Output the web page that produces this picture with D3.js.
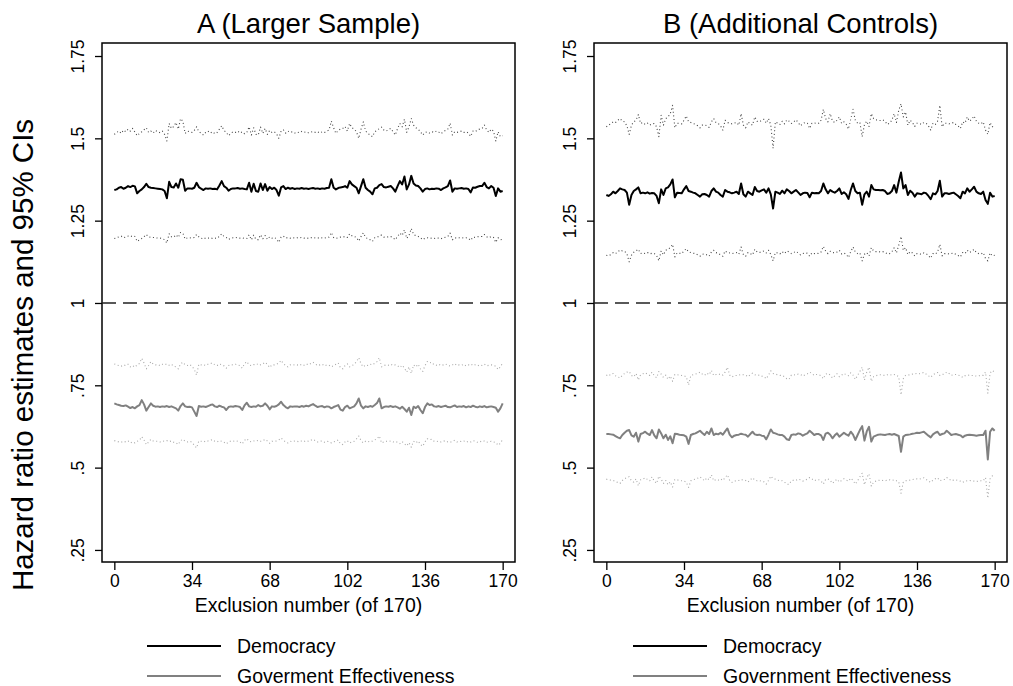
<!DOCTYPE html>
<html>
<head>
<meta charset="utf-8">
<script src="https://cdn.jsdelivr.net/npm/d3@7"></script>
<style>
    body { margin: 0; background: #fff; }
    text { font-family: "Liberation Sans", Arial, Helvetica, sans-serif; fill: #000; }
</style>
</head>
<body>
<script>

// tick values and labels
var xTicks = [0, 34, 68, 102, 136, 170];
var yTicks = [0.25, 0.5, 0.75, 1, 1.25, 1.5, 1.75];
var yTickLabels = [".25", ".5", ".75", "1", "1.25", "1.5", "1.75"];

// exclusion number 0..170
var exclusion = d3.range(0, 171);

// Panel A (Larger Sample)
var demA = [1.343,1.345,1.350,1.352,1.347,1.350,1.355,1.352,1.356,1.354,
    1.333,1.340,1.345,1.352,1.362,1.352,1.350,1.349,1.348,1.347,
    1.346,1.345,1.340,1.318,1.368,1.352,1.351,1.363,1.350,1.376,
    1.374,1.341,1.348,1.348,1.347,1.350,1.365,1.352,1.347,1.343,
    1.348,1.347,1.348,1.346,1.347,1.345,1.357,1.370,1.355,1.350,
    1.341,1.346,1.348,1.348,1.349,1.347,1.348,1.346,1.345,1.365,
    1.338,1.362,1.340,1.338,1.363,1.343,1.361,1.341,1.352,1.346,
    1.350,1.343,1.326,1.351,1.355,1.346,1.350,1.347,1.349,1.346,
    1.348,1.347,1.349,1.347,1.348,1.346,1.348,1.349,1.347,1.348,
    1.346,1.348,1.347,1.349,1.350,1.376,1.350,1.345,1.349,1.351,
    1.352,1.355,1.350,1.370,1.360,1.355,1.350,1.333,1.355,1.376,
    1.350,1.343,1.338,1.330,1.348,1.350,1.358,1.361,1.352,1.351,
    1.353,1.355,1.348,1.338,1.355,1.370,1.360,1.384,1.345,1.360,
    1.386,1.363,1.357,1.355,1.348,1.338,1.346,1.348,1.345,1.347,
    1.346,1.348,1.347,1.343,1.348,1.351,1.355,1.372,1.338,1.348,
    1.347,1.348,1.349,1.347,1.348,1.346,1.336,1.351,1.350,1.353,
    1.355,1.355,1.365,1.352,1.348,1.355,1.350,1.325,1.348,1.338,
    1.340];
var demAHi = [1.512,1.518,1.522,1.515,1.525,1.520,1.528,1.522,1.530,1.519,
    1.508,1.515,1.520,1.526,1.532,1.518,1.522,1.516,1.524,1.520,
    1.517,1.522,1.512,1.492,1.545,1.530,1.536,1.548,1.528,1.560,
    1.552,1.515,1.522,1.520,1.518,1.524,1.535,1.520,1.516,1.510,
    1.518,1.522,1.516,1.520,1.514,1.518,1.528,1.538,1.524,1.518,
    1.508,1.515,1.520,1.518,1.522,1.516,1.520,1.514,1.518,1.535,
    1.510,1.532,1.512,1.510,1.534,1.515,1.530,1.512,1.524,1.518,
    1.520,1.514,1.500,1.522,1.526,1.516,1.522,1.518,1.520,1.516,
    1.519,1.517,1.521,1.518,1.520,1.517,1.519,1.521,1.518,1.520,
    1.516,1.520,1.518,1.522,1.525,1.552,1.532,1.515,1.524,1.528,
    1.530,1.536,1.522,1.545,1.532,1.528,1.520,1.500,1.528,1.550,
    1.522,1.515,1.510,1.505,1.520,1.524,1.530,1.534,1.525,1.522,
    1.526,1.530,1.520,1.510,1.530,1.545,1.535,1.558,1.518,1.535,
    1.560,1.540,1.532,1.528,1.520,1.510,1.518,1.520,1.516,1.520,
    1.518,1.522,1.519,1.514,1.520,1.524,1.528,1.546,1.510,1.520,
    1.518,1.520,1.522,1.518,1.520,1.516,1.506,1.522,1.520,1.526,
    1.528,1.530,1.540,1.525,1.518,1.528,1.522,1.492,1.520,1.505,
    1.508];
var demALo = [1.196,1.198,1.201,1.203,1.198,1.200,1.203,1.201,1.204,1.202,
    1.187,1.192,1.196,1.201,1.208,1.201,1.199,1.199,1.198,1.197,
    1.197,1.196,1.192,1.182,1.210,1.201,1.200,1.207,1.199,1.214,
    1.212,1.194,1.198,1.198,1.197,1.199,1.208,1.201,1.197,1.194,
    1.198,1.197,1.198,1.196,1.197,1.196,1.203,1.210,1.202,1.199,
    1.193,1.196,1.198,1.198,1.199,1.197,1.198,1.196,1.196,1.207,
    1.192,1.206,1.193,1.192,1.207,1.195,1.205,1.193,1.201,1.197,
    1.199,1.195,1.184,1.200,1.203,1.197,1.199,1.197,1.199,1.197,
    1.198,1.197,1.199,1.197,1.198,1.196,1.198,1.199,1.197,1.198,
    1.196,1.198,1.197,1.199,1.200,1.214,1.199,1.196,1.198,1.200,
    1.200,1.202,1.199,1.210,1.204,1.202,1.199,1.188,1.202,1.213,
    1.199,1.195,1.192,1.187,1.198,1.199,1.204,1.206,1.200,1.200,
    1.201,1.202,1.198,1.192,1.202,1.212,1.205,1.222,1.196,1.205,
    1.226,1.208,1.204,1.202,1.198,1.192,1.197,1.198,1.196,1.197,
    1.196,1.198,1.197,1.195,1.198,1.200,1.202,1.212,1.192,1.198,
    1.197,1.198,1.199,1.197,1.198,1.196,1.190,1.200,1.199,1.201,
    1.202,1.202,1.208,1.201,1.198,1.202,1.199,1.184,1.198,1.192,
    1.193];
var govA = [0.695,0.692,0.690,0.688,0.687,0.689,0.685,0.681,0.684,0.680,
    0.686,0.690,0.705,0.692,0.673,0.684,0.695,0.688,0.685,0.686,
    0.684,0.686,0.685,0.687,0.684,0.686,0.683,0.680,0.673,0.687,
    0.695,0.686,0.684,0.685,0.683,0.670,0.657,0.687,0.685,0.686,
    0.684,0.687,0.690,0.692,0.686,0.684,0.688,0.685,0.683,0.675,
    0.684,0.686,0.685,0.687,0.686,0.684,0.675,0.689,0.697,0.686,
    0.684,0.686,0.685,0.690,0.686,0.688,0.695,0.688,0.677,0.686,
    0.685,0.687,0.692,0.700,0.690,0.684,0.680,0.686,0.685,0.686,
    0.686,0.684,0.687,0.685,0.688,0.686,0.690,0.693,0.688,0.684,
    0.686,0.687,0.683,0.686,0.685,0.680,0.684,0.687,0.690,0.676,
    0.673,0.684,0.688,0.680,0.683,0.686,0.695,0.710,0.688,0.680,
    0.686,0.684,0.687,0.685,0.690,0.696,0.710,0.680,0.684,0.686,
    0.685,0.687,0.684,0.686,0.683,0.679,0.685,0.678,0.670,0.682,
    0.660,0.685,0.681,0.687,0.675,0.665,0.684,0.695,0.690,0.692,
    0.686,0.685,0.687,0.684,0.686,0.688,0.684,0.683,0.686,0.689,
    0.684,0.686,0.685,0.687,0.683,0.686,0.684,0.688,0.685,0.683,
    0.686,0.684,0.687,0.683,0.685,0.686,0.684,0.682,0.670,0.680,
    0.695];
var govAHi = [0.815,0.812,0.810,0.808,0.812,0.810,0.814,0.806,0.810,0.805,
    0.812,0.816,0.832,0.818,0.800,0.810,0.822,0.815,0.812,0.813,
    0.810,0.814,0.812,0.815,0.811,0.814,0.808,0.806,0.800,0.815,
    0.820,0.812,0.810,0.813,0.808,0.798,0.781,0.814,0.812,0.813,
    0.810,0.814,0.816,0.818,0.812,0.810,0.815,0.812,0.809,0.802,
    0.810,0.813,0.812,0.814,0.812,0.810,0.802,0.816,0.822,0.812,
    0.810,0.813,0.812,0.816,0.812,0.815,0.820,0.814,0.804,0.812,
    0.812,0.814,0.818,0.826,0.816,0.810,0.806,0.812,0.811,0.813,
    0.812,0.810,0.814,0.811,0.815,0.812,0.816,0.820,0.815,0.810,
    0.812,0.814,0.809,0.812,0.811,0.806,0.810,0.814,0.818,0.803,
    0.800,0.810,0.815,0.806,0.810,0.813,0.822,0.834,0.815,0.806,
    0.812,0.810,0.814,0.812,0.817,0.822,0.834,0.806,0.810,0.812,
    0.811,0.814,0.810,0.812,0.809,0.804,0.811,0.802,0.790,0.806,
    0.786,0.812,0.806,0.814,0.800,0.792,0.810,0.822,0.818,0.820,
    0.812,0.811,0.814,0.810,0.812,0.815,0.810,0.809,0.812,0.816,
    0.810,0.812,0.811,0.814,0.809,0.812,0.810,0.815,0.812,0.809,
    0.812,0.810,0.814,0.809,0.811,0.812,0.810,0.808,0.798,0.806,
    0.818];
var govALo = [0.582,0.580,0.578,0.577,0.580,0.578,0.581,0.575,0.578,0.575,
    0.580,0.583,0.594,0.584,0.570,0.578,0.586,0.581,0.580,0.580,
    0.578,0.581,0.580,0.582,0.579,0.581,0.577,0.575,0.570,0.582,
    0.586,0.580,0.578,0.580,0.577,0.568,0.560,0.581,0.580,0.581,
    0.578,0.581,0.583,0.585,0.580,0.578,0.582,0.580,0.577,0.572,
    0.578,0.581,0.580,0.582,0.580,0.578,0.572,0.583,0.588,0.580,
    0.578,0.581,0.580,0.583,0.580,0.582,0.586,0.581,0.574,0.580,
    0.580,0.581,0.584,0.590,0.583,0.578,0.575,0.580,0.579,0.581,
    0.580,0.578,0.581,0.579,0.582,0.580,0.583,0.586,0.582,0.578,
    0.580,0.581,0.577,0.580,0.579,0.575,0.578,0.581,0.584,0.572,
    0.570,0.578,0.582,0.575,0.578,0.580,0.587,0.596,0.582,0.575,
    0.580,0.578,0.581,0.580,0.584,0.588,0.596,0.575,0.578,0.580,
    0.579,0.581,0.578,0.580,0.577,0.573,0.579,0.572,0.566,0.576,
    0.562,0.580,0.575,0.581,0.570,0.565,0.578,0.588,0.585,0.586,
    0.580,0.579,0.581,0.578,0.580,0.582,0.578,0.577,0.580,0.583,
    0.578,0.580,0.579,0.581,0.577,0.580,0.578,0.582,0.580,0.577,
    0.580,0.578,0.581,0.577,0.579,0.580,0.578,0.576,0.568,0.574,
    0.586];

// Panel B (Additional Controls)
var demB = [1.328,1.325,1.330,1.338,1.333,1.340,1.348,1.345,1.343,1.335,
    1.298,1.328,1.340,1.345,1.351,1.333,1.335,1.333,1.336,1.332,
    1.334,1.333,1.325,1.303,1.345,1.328,1.348,1.351,1.360,1.375,
    1.321,1.335,1.334,1.333,1.345,1.355,1.340,1.338,1.335,1.333,
    1.328,1.323,1.330,1.331,1.328,1.323,1.340,1.348,1.338,1.335,
    1.328,1.323,1.343,1.338,1.336,1.333,1.335,1.338,1.331,1.363,
    1.330,1.323,1.338,1.333,1.328,1.352,1.340,1.338,1.342,1.345,
    1.335,1.348,1.330,1.287,1.338,1.335,1.331,1.341,1.333,1.345,
    1.340,1.333,1.338,1.343,1.336,1.328,1.333,1.335,1.334,1.321,
    1.335,1.333,1.334,1.333,1.340,1.363,1.345,1.333,1.343,1.338,
    1.335,1.340,1.348,1.331,1.336,1.330,1.316,1.343,1.363,1.340,
    1.333,1.335,1.298,1.330,1.338,1.323,1.358,1.345,1.343,1.343,
    1.342,1.343,1.340,1.331,1.333,1.340,1.358,1.335,1.368,1.396,
    1.348,1.358,1.328,1.341,1.335,1.323,1.333,1.332,1.330,1.335,
    1.333,1.325,1.315,1.333,1.330,1.340,1.371,1.323,1.333,1.333,
    1.331,1.333,1.335,1.330,1.325,1.318,1.338,1.333,1.348,1.338,
    1.345,1.353,1.338,1.333,1.331,1.338,1.313,1.301,1.335,1.323,
    1.325];
var demBHi = [1.535,1.540,1.545,1.550,1.548,1.555,1.560,1.552,1.550,1.538,
    1.512,1.540,1.550,1.555,1.572,1.545,1.548,1.542,1.546,1.540,
    1.544,1.545,1.535,1.505,1.570,1.540,1.560,1.565,1.575,1.600,
    1.532,1.546,1.545,1.544,1.555,1.568,1.550,1.548,1.545,1.543,
    1.538,1.532,1.540,1.541,1.538,1.533,1.550,1.560,1.548,1.545,
    1.538,1.525,1.555,1.548,1.546,1.544,1.546,1.548,1.540,1.575,
    1.540,1.532,1.550,1.544,1.540,1.565,1.552,1.550,1.555,1.558,
    1.546,1.560,1.540,1.470,1.550,1.546,1.542,1.552,1.544,1.556,
    1.552,1.545,1.550,1.556,1.548,1.538,1.545,1.548,1.546,1.530,
    1.546,1.545,1.548,1.546,1.555,1.588,1.560,1.550,1.575,1.552,
    1.548,1.555,1.565,1.545,1.550,1.543,1.528,1.558,1.588,1.555,
    1.546,1.548,1.505,1.542,1.552,1.536,1.575,1.560,1.556,1.555,
    1.554,1.556,1.552,1.542,1.546,1.555,1.575,1.548,1.585,1.605,
    1.565,1.580,1.540,1.555,1.548,1.536,1.546,1.545,1.542,1.548,
    1.546,1.538,1.525,1.546,1.542,1.552,1.600,1.535,1.546,1.546,
    1.544,1.546,1.548,1.542,1.538,1.530,1.550,1.546,1.565,1.552,
    1.558,1.568,1.552,1.546,1.544,1.550,1.525,1.512,1.548,1.535,
    1.538];
var demBLo = [1.145,1.143,1.147,1.153,1.150,1.155,1.161,1.158,1.157,1.150,
    1.125,1.145,1.154,1.158,1.163,1.150,1.152,1.150,1.153,1.149,
    1.151,1.150,1.144,1.128,1.158,1.146,1.160,1.163,1.168,1.178,
    1.140,1.152,1.151,1.150,1.158,1.165,1.155,1.153,1.151,1.150,
    1.146,1.142,1.148,1.149,1.146,1.142,1.155,1.160,1.153,1.151,
    1.146,1.142,1.158,1.153,1.152,1.150,1.152,1.153,1.148,1.170,
    1.147,1.142,1.153,1.150,1.146,1.163,1.155,1.153,1.156,1.158,
    1.152,1.160,1.147,1.128,1.153,1.152,1.149,1.156,1.150,1.158,
    1.155,1.150,1.153,1.157,1.152,1.146,1.150,1.152,1.151,1.142,
    1.152,1.150,1.151,1.150,1.155,1.172,1.158,1.150,1.157,1.153,
    1.152,1.155,1.160,1.149,1.152,1.148,1.138,1.156,1.170,1.155,
    1.150,1.152,1.128,1.148,1.153,1.143,1.168,1.158,1.156,1.156,
    1.155,1.156,1.154,1.149,1.150,1.155,1.168,1.152,1.175,1.202,
    1.160,1.168,1.147,1.156,1.152,1.143,1.150,1.149,1.148,1.152,
    1.150,1.144,1.136,1.150,1.148,1.155,1.178,1.143,1.150,1.150,
    1.149,1.150,1.152,1.148,1.144,1.140,1.153,1.150,1.160,1.153,
    1.157,1.163,1.153,1.150,1.149,1.153,1.135,1.128,1.152,1.143,
    1.145];
var govB = [0.602,0.602,0.601,0.600,0.596,0.592,0.589,0.599,0.606,0.612,
    0.614,0.598,0.594,0.606,0.579,0.602,0.605,0.609,0.603,0.599,
    0.614,0.598,0.589,0.616,0.604,0.589,0.600,0.584,0.595,0.574,
    0.603,0.602,0.600,0.599,0.598,0.594,0.572,0.599,0.602,0.604,
    0.608,0.612,0.605,0.599,0.609,0.602,0.619,0.599,0.603,0.601,
    0.606,0.600,0.610,0.619,0.600,0.592,0.597,0.599,0.600,0.603,
    0.601,0.600,0.594,0.602,0.609,0.601,0.599,0.600,0.597,0.596,
    0.586,0.600,0.616,0.606,0.604,0.601,0.599,0.599,0.594,0.586,
    0.584,0.599,0.601,0.600,0.604,0.602,0.597,0.601,0.604,0.612,
    0.606,0.599,0.602,0.602,0.598,0.584,0.603,0.606,0.600,0.589,
    0.598,0.604,0.594,0.600,0.606,0.601,0.597,0.609,0.600,0.584,
    0.599,0.614,0.626,0.582,0.610,0.624,0.579,0.594,0.597,0.600,
    0.601,0.600,0.599,0.601,0.602,0.600,0.602,0.599,0.596,0.548,
    0.594,0.599,0.600,0.601,0.603,0.604,0.606,0.605,0.607,0.609,
    0.603,0.597,0.592,0.601,0.606,0.609,0.599,0.602,0.604,0.612,
    0.606,0.599,0.601,0.602,0.600,0.598,0.592,0.597,0.599,0.600,
    0.599,0.598,0.597,0.598,0.599,0.599,0.612,0.525,0.609,0.619,
    0.612];
var govBHi = [0.781,0.778,0.784,0.786,0.779,0.776,0.772,0.780,0.786,0.790,
    0.792,0.780,0.776,0.786,0.766,0.782,0.785,0.788,0.784,0.780,
    0.790,0.779,0.773,0.792,0.784,0.774,0.781,0.768,0.778,0.762,
    0.783,0.782,0.781,0.780,0.779,0.776,0.751,0.780,0.782,0.784,
    0.786,0.790,0.784,0.780,0.787,0.782,0.795,0.780,0.783,0.782,
    0.785,0.781,0.790,0.805,0.781,0.775,0.779,0.780,0.781,0.783,
    0.782,0.781,0.776,0.782,0.787,0.782,0.780,0.781,0.778,0.777,
    0.770,0.781,0.794,0.786,0.784,0.782,0.780,0.780,0.776,0.770,
    0.768,0.781,0.782,0.781,0.784,0.783,0.778,0.782,0.785,0.790,
    0.786,0.780,0.783,0.782,0.779,0.770,0.784,0.786,0.781,0.772,
    0.779,0.785,0.776,0.781,0.786,0.782,0.779,0.788,0.781,0.768,
    0.780,0.792,0.805,0.766,0.790,0.805,0.762,0.776,0.779,0.781,
    0.782,0.781,0.780,0.782,0.783,0.781,0.783,0.780,0.776,0.721,
    0.770,0.780,0.781,0.782,0.784,0.785,0.786,0.785,0.787,0.789,
    0.784,0.779,0.774,0.782,0.786,0.789,0.780,0.783,0.784,0.790,
    0.786,0.780,0.782,0.783,0.781,0.779,0.774,0.779,0.780,0.781,
    0.780,0.779,0.778,0.779,0.780,0.780,0.790,0.726,0.787,0.795,
    0.790];
var govBLo = [0.465,0.463,0.462,0.461,0.458,0.455,0.452,0.461,0.466,0.470,
    0.472,0.460,0.456,0.466,0.445,0.463,0.465,0.469,0.464,0.460,
    0.472,0.459,0.452,0.474,0.465,0.452,0.461,0.448,0.457,0.441,
    0.464,0.463,0.461,0.460,0.459,0.456,0.440,0.460,0.463,0.465,
    0.468,0.472,0.466,0.460,0.469,0.463,0.478,0.460,0.464,0.462,
    0.466,0.461,0.470,0.478,0.461,0.455,0.459,0.460,0.461,0.464,
    0.462,0.461,0.456,0.463,0.469,0.462,0.460,0.461,0.458,0.457,
    0.450,0.461,0.474,0.466,0.465,0.462,0.460,0.460,0.456,0.450,
    0.449,0.460,0.462,0.461,0.465,0.463,0.459,0.462,0.465,0.470,
    0.466,0.460,0.463,0.463,0.459,0.450,0.464,0.466,0.461,0.452,
    0.459,0.465,0.456,0.461,0.466,0.462,0.459,0.468,0.461,0.450,
    0.460,0.472,0.483,0.448,0.470,0.481,0.444,0.456,0.459,0.461,
    0.462,0.461,0.460,0.462,0.463,0.461,0.463,0.460,0.457,0.422,
    0.456,0.460,0.461,0.462,0.464,0.465,0.466,0.465,0.467,0.469,
    0.464,0.459,0.455,0.462,0.466,0.469,0.460,0.463,0.464,0.470,
    0.466,0.460,0.462,0.463,0.461,0.459,0.455,0.459,0.460,0.461,
    0.460,0.459,0.458,0.459,0.460,0.460,0.470,0.407,0.466,0.475,
    0.470];


var svg = d3.select("body").append("svg")
    .attr("width", 1013)
    .attr("height", 686);

var plotTop = 43,
    plotBottom = 562;

// y label shared by both panels
svg.append("text")
    .attr("transform", "translate(33,355) rotate(-90)")
    .attr("text-anchor", "middle")
    .style("font-size", "29.5px")
    .text("Hazard ratio estimates and 95% CIs");

function Panel(options) {

    var _self = this;

    var x = _self.x = d3.scaleLinear()
        .domain([-5.4, 175.4])
        .range([options.left, options.right]);

    var y = _self.y = d3.scaleLinear()
        .domain([0.2134, 1.7895])
        .range([plotBottom, plotTop]);

    var g = svg.append("g");

    // title
    g.append("text")
        .attr("x", (options.left + options.right) / 2)
        .attr("y", 33)
        .attr("text-anchor", "middle")
        .style("font-size", "27.5px")
        .text(options.title);

    // frame
    g.append("rect")
        .attr("x", options.left)
        .attr("y", plotTop)
        .attr("width", options.right - options.left)
        .attr("height", plotBottom - plotTop)
        .style("fill", "none")
        .style("stroke", "#000")
        .style("stroke-width", 1.5);

    // x axis
    var xAxis = d3.axisBottom(x).tickValues(xTicks).tickSizeInner(8).tickSizeOuter(0).tickPadding(5);
    var gx = g.append("g")
        .attr("transform", "translate(0," + plotBottom + ")")
        .call(xAxis);
    gx.select(".domain").remove();
    gx.selectAll("line").style("stroke", "#000").style("stroke-width", 1.3);
    gx.selectAll("text").style("font-size", "17.5px").attr("fill", "#000");

    g.append("text")
        .attr("x", (options.left + options.right) / 2)
        .attr("y", 612)
        .attr("text-anchor", "middle")
        .style("font-size", "19.5px")
        .text("Exclusion number (of 170)");

    // y axis with rotated labels
    var yAxis = d3.axisLeft(y).tickValues(yTicks).tickSizeInner(7).tickSizeOuter(0)
        .tickFormat(function (d, i) {
            return yTickLabels[i];
        });
    var gy = g.append("g")
        .attr("transform", "translate(" + options.left + ",0)")
        .call(yAxis);
    gy.select(".domain").remove();
    gy.selectAll("line").style("stroke", "#000").style("stroke-width", 1.3);
    gy.selectAll("text")
        .attr("x", null)
        .attr("dy", null)
        .attr("text-anchor", "middle")
        .attr("transform", "translate(-18,0) rotate(-90)")
        .style("font-size", "17.5px")
        .attr("fill", "#000");

    // reference line at 1
    g.append("line")
        .attr("x1", options.left)
        .attr("x2", options.right)
        .attr("y1", y(1))
        .attr("y2", y(1))
        .style("stroke", "#222")
        .style("stroke-width", 1.5)
        .style("stroke-dasharray", "14,7");

    var line = function (values) {
        return d3.line()
            .x(function (d, i) {
                return x(exclusion[i]);
            })
            .y(function (d) {
                return y(d);
            })(values);
    };

    var series = [
        {values: options.govLo, color: "#a8a8a8", width: 1.1, dash: "1,2.6"},
        {values: options.govHi, color: "#a8a8a8", width: 1.1, dash: "1,2.6"},
        {values: options.demLo, color: "#444", width: 1.1, dash: "1,2.6"},
        {values: options.demHi, color: "#444", width: 1.1, dash: "1,2.6"},
        {values: options.gov, color: "#808080", width: 2, dash: null},
        {values: options.dem, color: "#000", width: 2, dash: null}
    ];

    series.forEach(function (s) {
        g.append("path")
            .attr("d", line(s.values))
            .style("fill", "none")
            .style("stroke", s.color)
            .style("stroke-width", s.width)
            .style("stroke-linejoin", "round")
            .style("stroke-dasharray", s.dash);
    });

    // legend
    var legend = [
        {label: "Democracy", color: "#000", y: 646},
        {label: options.govLabel, color: "#808080", y: 676}
    ];

    legend.forEach(function (d) {
        g.append("line")
            .attr("x1", options.legendX)
            .attr("x2", options.legendX + 74)
            .attr("y1", d.y)
            .attr("y2", d.y)
            .style("stroke", d.color)
            .style("stroke-width", 2);
        g.append("text")
            .attr("x", options.legendX + 90)
            .attr("y", d.y + 7)
            .style("font-size", "19.5px")
            .text(d.label);
    });
}

new Panel({
    title: "A (Larger Sample)",
    left: 102, right: 515,
    dem: demA, demHi: demAHi, demLo: demALo,
    gov: govA, govHi: govAHi, govLo: govALo,
    govLabel: "Goverment Effectiveness",
    legendX: 147
});

new Panel({
    title: "B (Additional Controls)",
    left: 594, right: 1007,
    dem: demB, demHi: demBHi, demLo: demBLo,
    gov: govB, govHi: govBHi, govLo: govBLo,
    govLabel: "Government Effectiveness",
    legendX: 633
});

</script>
</body>
</html>
